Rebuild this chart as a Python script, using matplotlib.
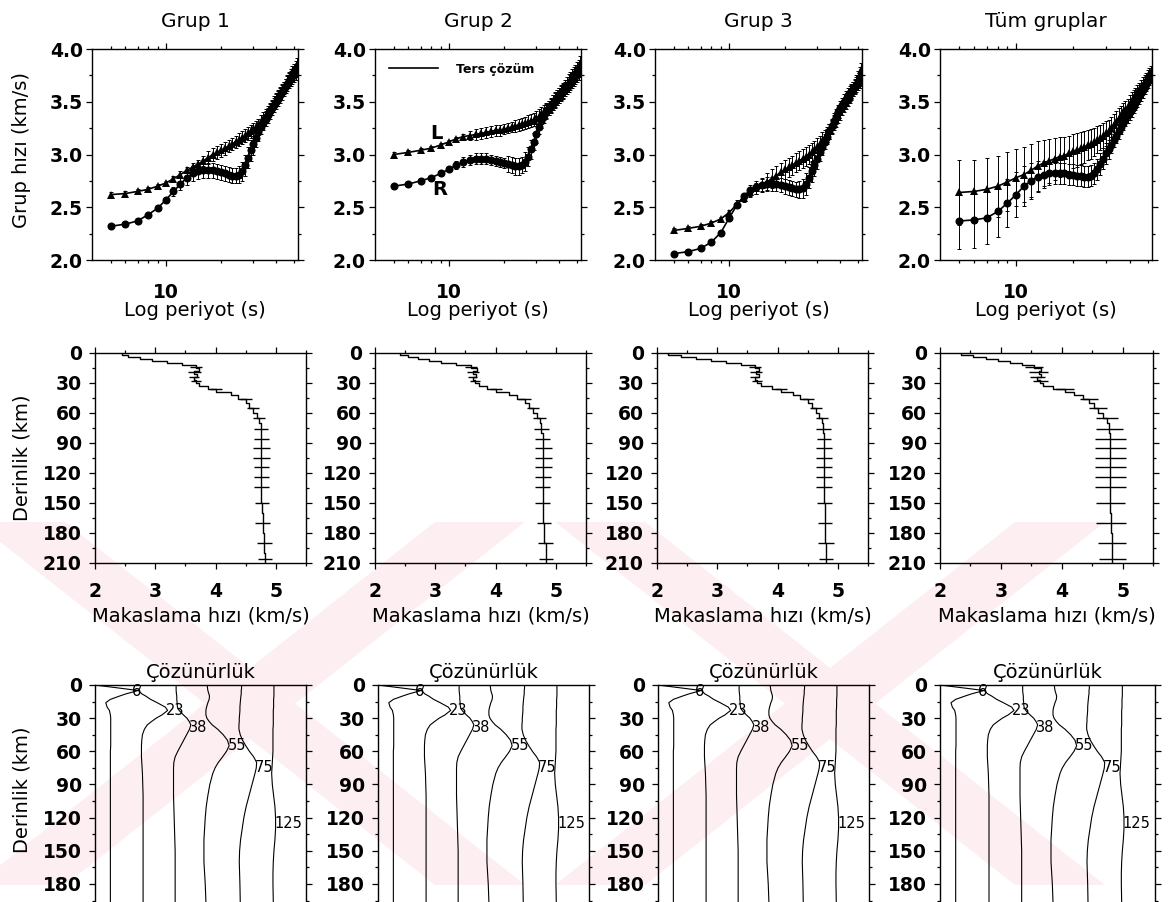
import numpy as np
import matplotlib.pyplot as plt
from matplotlib.ticker import MultipleLocator, FixedLocator, NullFormatter, NullLocator

plt.rcParams["font.family"] = ["DejaVu Sans"]
plt.rcParams["axes.linewidth"] = 1.0

W, H = 1170, 902

# ============================================================
# VERI
# ============================================================

gruplar = ["Grup 1", "Grup 2", "Grup 3", "Tüm gruplar"]

periyot = [5, 6, 7, 8, 9, 10, 11, 12, 13, 14, 15, 16, 17, 18, 19, 20,
           21, 22, 23, 24, 25, 26, 27, 28, 29, 30, 31, 32, 33, 34, 35, 36,
           37, 38, 39, 40, 41, 42, 43, 44, 45, 46, 47, 48, 49, 50, 51, 52]

# Love (L, ucgen) ve Rayleigh (R, daire) grup hizlari, km/s
g1_L = [2.62, 2.63, 2.65, 2.67, 2.70, 2.73, 2.77, 2.81, 2.85, 2.88, 2.91, 2.94,
        2.97, 3.00, 3.02, 3.04, 3.06, 3.08, 3.10, 3.12, 3.14, 3.16, 3.18, 3.20,
        3.22, 3.24, 3.26, 3.28, 3.31, 3.34, 3.37, 3.40, 3.43, 3.46, 3.49, 3.52,
        3.55, 3.58, 3.61, 3.63, 3.66, 3.69, 3.72, 3.75, 3.78, 3.80, 3.83, 3.85]
g1_R = [2.32, 2.34, 2.37, 2.43, 2.49, 2.57, 2.65, 2.72, 2.78, 2.82, 2.84, 2.85,
        2.85, 2.85, 2.84, 2.83, 2.82, 2.81, 2.80, 2.80, 2.81, 2.84, 2.90, 2.97,
        3.04, 3.10, 3.16, 3.21, 3.26, 3.30, 3.34, 3.37, 3.41, 3.44, 3.47, 3.50,
        3.53, 3.56, 3.59, 3.62, 3.65, 3.67, 3.70, 3.72, 3.74, 3.76, 3.78, 3.80]
g1_Lh = [0.02, 0.02, 0.02, 0.02, 0.02, 0.02, 0.03, 0.03, 0.03, 0.04, 0.04, 0.05,
         0.06, 0.06, 0.06, 0.06, 0.06, 0.06, 0.06, 0.06, 0.06, 0.06, 0.06, 0.06,
         0.06, 0.06, 0.06, 0.06, 0.06, 0.06, 0.06, 0.06, 0.06, 0.06, 0.06, 0.06,
         0.06, 0.06, 0.06, 0.06, 0.06, 0.06, 0.06, 0.06, 0.06, 0.06, 0.06, 0.06]
g1_Rh = [0.02, 0.02, 0.02, 0.02, 0.02, 0.03, 0.04, 0.06, 0.07, 0.07, 0.07, 0.07,
         0.07, 0.07, 0.07, 0.07, 0.07, 0.07, 0.07, 0.07, 0.08, 0.09, 0.10, 0.10,
         0.10, 0.10, 0.09, 0.08, 0.07, 0.07, 0.07, 0.07, 0.07, 0.07, 0.07, 0.07,
         0.07, 0.07, 0.07, 0.07, 0.07, 0.07, 0.07, 0.07, 0.07, 0.07, 0.07, 0.07]

g2_L = [3.00, 3.02, 3.04, 3.06, 3.09, 3.12, 3.15, 3.17, 3.18, 3.19, 3.20, 3.21,
        3.22, 3.23, 3.23, 3.24, 3.25, 3.26, 3.27, 3.28, 3.29, 3.30, 3.31, 3.32,
        3.33, 3.35, 3.36, 3.38, 3.40, 3.42, 3.44, 3.46, 3.49, 3.51, 3.54, 3.56,
        3.59, 3.61, 3.64, 3.66, 3.69, 3.71, 3.74, 3.76, 3.78, 3.81, 3.83, 3.86]
g2_R = [2.70, 2.72, 2.75, 2.78, 2.82, 2.86, 2.90, 2.93, 2.95, 2.96, 2.96, 2.96,
        2.95, 2.94, 2.93, 2.92, 2.91, 2.90, 2.89, 2.89, 2.90, 2.93, 2.98, 3.05,
        3.12, 3.19, 3.26, 3.32, 3.37, 3.41, 3.44, 3.47, 3.49, 3.52, 3.54, 3.56,
        3.58, 3.60, 3.62, 3.64, 3.66, 3.68, 3.70, 3.72, 3.74, 3.76, 3.78, 3.80]
g2_Lh = [0.02, 0.02, 0.02, 0.02, 0.02, 0.02, 0.02, 0.02, 0.04, 0.05, 0.05, 0.05,
         0.05, 0.05, 0.05, 0.05, 0.05, 0.05, 0.06, 0.06, 0.06, 0.06, 0.06, 0.06,
         0.06, 0.06, 0.07, 0.07, 0.07, 0.07, 0.07, 0.07, 0.07, 0.07, 0.07, 0.07,
         0.07, 0.07, 0.07, 0.07, 0.07, 0.07, 0.07, 0.07, 0.07, 0.07, 0.07, 0.07]
g2_Rh = [0.02, 0.02, 0.02, 0.02, 0.02, 0.02, 0.04, 0.05, 0.05, 0.05, 0.05, 0.05,
         0.05, 0.05, 0.05, 0.05, 0.08, 0.08, 0.08, 0.08, 0.08, 0.09, 0.09, 0.09,
         0.08, 0.08, 0.07, 0.07, 0.07, 0.07, 0.07, 0.07, 0.07, 0.07, 0.07, 0.07,
         0.07, 0.07, 0.07, 0.07, 0.07, 0.07, 0.07, 0.07, 0.07, 0.07, 0.07, 0.07]

g3_L = [2.28, 2.30, 2.32, 2.35, 2.39, 2.45, 2.53, 2.59, 2.64, 2.68, 2.71, 2.74,
        2.77, 2.80, 2.83, 2.86, 2.88, 2.90, 2.92, 2.94, 2.96, 2.98, 3.00, 3.02,
        3.04, 3.07, 3.10, 3.13, 3.16, 3.19, 3.22, 3.26, 3.30, 3.33, 3.37, 3.40,
        3.44, 3.47, 3.50, 3.53, 3.56, 3.59, 3.62, 3.65, 3.68, 3.72, 3.76, 3.80]
g3_R = [2.06, 2.08, 2.11, 2.17, 2.26, 2.40, 2.52, 2.61, 2.66, 2.69, 2.71, 2.72,
        2.72, 2.72, 2.71, 2.70, 2.69, 2.68, 2.67, 2.67, 2.68, 2.72, 2.78, 2.84,
        2.90, 2.96, 3.02, 3.07, 3.12, 3.17, 3.22, 3.27, 3.32, 3.36, 3.40, 3.44,
        3.47, 3.50, 3.53, 3.56, 3.58, 3.60, 3.62, 3.64, 3.66, 3.68, 3.70, 3.72]
g3_Lh = [0.02, 0.02, 0.02, 0.02, 0.02, 0.02, 0.04, 0.04, 0.04, 0.05, 0.06, 0.08,
         0.09, 0.09, 0.09, 0.09, 0.09, 0.09, 0.09, 0.09, 0.09, 0.09, 0.09, 0.09,
         0.09, 0.09, 0.08, 0.08, 0.07, 0.07, 0.07, 0.07, 0.07, 0.07, 0.07, 0.07,
         0.07, 0.07, 0.07, 0.07, 0.07, 0.07, 0.07, 0.07, 0.07, 0.07, 0.07, 0.07]
g3_Rh = [0.02, 0.02, 0.02, 0.02, 0.02, 0.02, 0.02, 0.02, 0.05, 0.06, 0.07, 0.07,
         0.07, 0.07, 0.07, 0.07, 0.07, 0.07, 0.07, 0.08, 0.09, 0.10, 0.10, 0.10,
         0.10, 0.10, 0.08, 0.07, 0.07, 0.07, 0.07, 0.07, 0.07, 0.07, 0.07, 0.07,
         0.07, 0.07, 0.07, 0.07, 0.07, 0.07, 0.07, 0.07, 0.07, 0.07, 0.07, 0.07]

g4_L = [2.64, 2.65, 2.67, 2.70, 2.74, 2.78, 2.81, 2.85, 2.89, 2.92, 2.94, 2.96,
        2.98, 2.99, 3.01, 3.03, 3.04, 3.06, 3.07, 3.09, 3.10, 3.12, 3.14, 3.16,
        3.18, 3.20, 3.22, 3.25, 3.28, 3.31, 3.34, 3.37, 3.40, 3.42, 3.45, 3.48,
        3.51, 3.53, 3.56, 3.59, 3.61, 3.64, 3.66, 3.69, 3.71, 3.74, 3.76, 3.78]
g4_R = [2.37, 2.38, 2.40, 2.46, 2.54, 2.62, 2.70, 2.75, 2.79, 2.81, 2.82, 2.82,
        2.82, 2.82, 2.81, 2.81, 2.80, 2.80, 2.79, 2.79, 2.80, 2.82, 2.86, 2.91,
        2.96, 3.01, 3.05, 3.09, 3.14, 3.18, 3.22, 3.26, 3.30, 3.34, 3.37, 3.40,
        3.43, 3.46, 3.49, 3.52, 3.55, 3.58, 3.61, 3.64, 3.67, 3.70, 3.73, 3.75]
g4_Lh = [0.31, 0.30, 0.30, 0.29, 0.28, 0.27, 0.26, 0.25, 0.24, 0.22, 0.21, 0.20,
         0.19, 0.18, 0.17, 0.16, 0.16, 0.15, 0.15, 0.14, 0.14, 0.13, 0.13, 0.12,
         0.12, 0.12, 0.11, 0.11, 0.10, 0.10, 0.10, 0.09, 0.09, 0.09, 0.08, 0.08,
         0.08, 0.08, 0.07, 0.07, 0.07, 0.07, 0.07, 0.06, 0.06, 0.06, 0.06, 0.06]
g4_Rh = [0.27, 0.27, 0.25, 0.24, 0.23, 0.21, 0.19, 0.17, 0.15, 0.13, 0.11, 0.10,
         0.10, 0.10, 0.10, 0.10, 0.10, 0.10, 0.10, 0.10, 0.10, 0.10, 0.10, 0.10,
         0.10, 0.10, 0.09, 0.08, 0.07, 0.07, 0.07, 0.07, 0.07, 0.07, 0.07, 0.07,
         0.07, 0.07, 0.07, 0.07, 0.07, 0.07, 0.07, 0.07, 0.07, 0.07, 0.07, 0.07]

# Makaslama hizi modelleri: katman ust derinligi (km) ve hiz (km/s)
katman_ust = [0, 2, 4, 6, 8, 10, 12, 15, 18, 21, 24, 27, 30, 33, 36, 39, 42, 46,
              50, 55, 60, 65, 70, 80, 90, 100, 110, 120, 130, 140, 150, 160,
              170, 180, 190, 200, 210]
g1_vs = [2.45, 2.55, 2.75, 2.95, 3.20, 3.45, 3.68, 3.72, 3.65, 3.70, 3.64, 3.68,
         3.72, 3.88, 4.00, 4.25, 4.38, 4.50, 4.55, 4.62, 4.68, 4.72, 4.75, 4.76,
         4.76, 4.76, 4.76, 4.76, 4.76, 4.76, 4.77, 4.78, 4.78, 4.80, 4.81, 4.82, 4.82]
g2_vs = [2.42, 2.55, 2.72, 2.90, 3.10, 3.35, 3.60, 3.70, 3.62, 3.68, 3.62, 3.66,
         3.72, 3.85, 4.00, 4.22, 4.35, 4.48, 4.55, 4.62, 4.68, 4.73, 4.76, 4.78,
         4.79, 4.79, 4.79, 4.79, 4.78, 4.78, 4.78, 4.79, 4.80, 4.81, 4.83, 4.84, 4.84]
g3_vs = [2.18, 2.40, 2.65, 2.90, 3.15, 3.40, 3.62, 3.70, 3.64, 3.70, 3.62, 3.66,
         3.72, 3.90, 4.05, 4.25, 4.38, 4.50, 4.57, 4.63, 4.68, 4.73, 4.76, 4.77,
         4.77, 4.77, 4.77, 4.77, 4.77, 4.77, 4.78, 4.78, 4.79, 4.79, 4.80, 4.80, 4.80]
g4_vs = [2.35, 2.55, 2.75, 2.95, 3.15, 3.35, 3.55, 3.66, 3.62, 3.66, 3.60, 3.65,
         3.70, 3.85, 4.05, 4.20, 4.35, 4.45, 4.53, 4.60, 4.68, 4.74, 4.78, 4.80,
         4.80, 4.80, 4.80, 4.80, 4.80, 4.80, 4.80, 4.81, 4.81, 4.82, 4.82, 4.83, 4.83]

# hata cubuklari (km/s), derinlikte
hata_derinlik = [14, 19, 24, 28, 36, 46, 55, 65, 76, 86, 95, 105, 114, 124,
                 134, 150, 170, 190, 206]
g1_vh = [0.10, 0.10, 0.08, 0.08, 0.10, 0.10, 0.10, 0.10, 0.12, 0.12, 0.14,
         0.14, 0.13, 0.13, 0.13, 0.12, 0.12, 0.13, 0.12]
g2_vh = [0.10, 0.10, 0.08, 0.08, 0.10, 0.10, 0.10, 0.11, 0.12, 0.13, 0.14,
         0.14, 0.14, 0.13, 0.13, 0.12, 0.12, 0.13, 0.12]
g3_vh = [0.10, 0.10, 0.08, 0.08, 0.10, 0.10, 0.10, 0.10, 0.12, 0.12, 0.14,
         0.14, 0.13, 0.13, 0.13, 0.12, 0.12, 0.13, 0.12]
g4_vh = [0.15, 0.15, 0.12, 0.12, 0.15, 0.15, 0.15, 0.18, 0.22, 0.25, 0.26,
         0.26, 0.25, 0.25, 0.25, 0.24, 0.24, 0.23, 0.22]

# Cozunurluk cekirdekleri (hedef derinlik etiketi, derinlik boyunca sapma)
cekirdek_derinlik = [0, 3, 5, 8, 10, 13, 16, 20, 23, 27, 30, 33, 36, 40, 45,
                     50, 55, 60, 65, 70, 75, 80, 90, 100, 110, 120, 130, 140,
                     150, 160, 170, 180, 196]
cekirdek_etiket = ["6", "23", "38", "55", "75", "125"]
k6 = [-0.46, 0.35, 0.87, 0.50, 0.30, 0.02, -0.12, -0.08, -0.01, 0.02, 0.03,
      0.03, 0.03, 0.03, 0.03, 0.03, 0.03, 0.02, 0.02, 0.02, 0.02, 0.02, 0.02,
      0.02, 0.02, 0.02, 0.02, 0.02, 0.02, 0.02, 0.02, 0.02, 0.02]
k23 = [-0.05, -0.08, -0.12, -0.02, 0.10, 0.25, 0.45, 0.70, 0.77, 0.60, 0.42,
       0.28, 0.15, 0.06, 0.00, -0.02, -0.03, -0.03, -0.03, -0.02, -0.01, 0.00,
       0.01, 0.02, 0.02, 0.02, 0.02, 0.02, 0.02, 0.02, 0.02, 0.02, 0.02]
k38 = [0.03, 0.03, 0.03, 0.04, 0.05, 0.05, 0.06, 0.07, 0.12, 0.25, 0.36, 0.43,
       0.48, 0.44, 0.35, 0.26, 0.17, 0.08, 0.00, -0.04, -0.05, -0.05, -0.05,
       -0.05, -0.04, -0.03, -0.02, -0.01, 0.00, 0.00, 0.00, 0.00, 0.00]
k55 = [-0.02, -0.01, 0.00, 0.03, 0.05, 0.04, 0.00, -0.04, -0.06, -0.06, -0.03,
       0.04, 0.13, 0.30, 0.47, 0.60, 0.65, 0.57, 0.45, 0.32, 0.22, 0.15, 0.06,
       0.00, -0.05, -0.08, -0.10, -0.12, -0.12, -0.12, -0.10, -0.08, -0.06]
k75 = [0.03, 0.03, 0.02, 0.02, 0.01, 0.00, -0.01, -0.02, -0.02, -0.03, -0.04,
       -0.04, -0.05, -0.05, -0.01, 0.06, 0.16, 0.27, 0.40, 0.49, 0.48, 0.44,
       0.35, 0.26, 0.17, 0.10, 0.05, 0.00, -0.03, -0.04, -0.03, -0.02, -0.01]
k125 = [0.02, 0.02, 0.02, 0.02, 0.02, 0.01, 0.01, 0.01, 0.00, 0.00, 0.00,
        0.00, 0.00, -0.01, -0.01, -0.01, -0.01, -0.01, -0.02, -0.03, -0.04,
        -0.05, -0.03, 0.01, 0.05, 0.07, 0.07, 0.05, 0.02, 0.00, -0.01, -0.01, 0.00]
cekirdekler = [k6, k23, k38, k55, k75, k125]

dispersiyon = [(g1_L, g1_Lh, g1_R, g1_Rh), (g2_L, g2_Lh, g2_R, g2_Rh),
               (g3_L, g3_Lh, g3_R, g3_Rh), (g4_L, g4_Lh, g4_R, g4_Rh)]
modeller = [(g1_vs, g1_vh), (g2_vs, g2_vh), (g3_vs, g3_vh), (g4_vs, g4_vh)]


# ============================================================
# YERLESIM (piksel kutulari: sol, ust, sag, alt)
# ============================================================

def kutu(l, t, r, b):
    return [l / W, 1 - b / H, (r - l) / W, (b - t) / H]

ust_kutu = [(92, 49, 298, 260), (375, 49, 581, 260),
            (655, 49, 862, 260), (940, 49, 1152, 260)]
orta_kutu = [(95, 353, 306, 563), (375, 353, 586, 563),
             (657, 353, 868, 563), (940, 353, 1153, 563)]
alt_kutu = [(95, 685, 306, 902), (378, 685, 589, 902),
            (658, 685, 869, 902), (940, 685, 1155, 902)]

fig = plt.figure(figsize=(W / 100, H / 100), dpi=100)

# filigran (soluk pembe capraz bantlar)
wm = fig.add_axes([0, 0, 1, 1], zorder=-10)
wm.set_xlim(0, W)
wm.set_ylim(H, 0)
wm.axis("off")
for cx in [250, 830]:
    for yon in [1, -1]:
        xs = [cx - yon * 230 - 45, cx - yon * 230 + 45, cx + yon * 230 + 45, cx + yon * 230 - 45]
        ys = [522, 522, 885, 885]
        wm.fill(xs, ys, color="#fdeef1", lw=0)

TICK = dict(which="both", direction="out", top=True, right=True,
            width=0.9, colors="black")


def eksen_ayar(ax, ypad=2, xpad=8):
    ax.tick_params(**TICK)
    ax.tick_params(which="major", length=4.5)
    ax.tick_params(which="minor", length=2.5)
    ax.tick_params(axis="y", pad=ypad)
    ax.tick_params(axis="x", pad=xpad)
    for lab in ax.get_xticklabels() + ax.get_yticklabels():
        lab.set_fontweight("bold")
        lab.set_fontsize(13.5)
    ax.patch.set_alpha(0)


for i in range(4):
    L, Lh, R, Rh = dispersiyon[i]

    # ---------------- 1) grup hizi dispersiyonu ----------------
    ax = fig.add_axes(kutu(*ust_kutu[i]))
    ax.errorbar(periyot, R, yerr=Rh, fmt="none", ecolor="k", elinewidth=0.7,
                capsize=1.6, capthick=0.7)
    ax.errorbar(periyot, L, yerr=Lh, fmt="none", ecolor="k", elinewidth=0.7,
                capsize=1.6, capthick=0.7)
    ax.plot(periyot, R, "-", color="k", lw=1.2, label="Ters çözüm")
    ax.plot(periyot, L, "-", color="k", lw=1.2)
    ax.plot(periyot, R, "o", color="k", ms=5.8, mew=0)
    ax.plot(periyot, L, "^", color="k", ms=5.8, mew=0)
    ax.set_xscale("log")
    ax.set_xlim(3.95, 52.6)
    ax.set_ylim(2.0, 4.0)
    ax.xaxis.set_major_locator(FixedLocator([10]))
    ax.xaxis.set_minor_locator(FixedLocator([5, 6, 7, 8, 9, 20, 30, 40, 50]))
    ax.xaxis.set_minor_formatter(NullFormatter())
    ax.set_xticklabels(["10"])
    ax.yaxis.set_minor_locator(MultipleLocator(0.25))
    ax.set_yticks([2.0, 2.5, 3.0, 3.5, 4.0], ["2.0", "2.5", "3.0", "3.5", "4.0"])
    eksen_ayar(ax, ypad=2, xpad=12)
    ax.set_title(gruplar[i], fontsize=14.5, pad=16)
    ax.text(0.5, -0.24, "Log periyot (s)", transform=ax.transAxes,
            ha="center", va="center", fontsize=14)
    if i == 0:
        ax.text(-0.34, 0.52, "Grup hızı (km/s)", transform=ax.transAxes,
                rotation=90, ha="center", va="center", fontsize=14)
    if i == 1:
        ax.legend(loc="upper left", frameon=False, handlelength=3.9,
                  handletextpad=1.5, borderaxespad=0.7,
                  prop={"size": 9, "weight": "bold"})
        ax.text(0.30, 0.60, "L", transform=ax.transAxes, ha="center",
                va="center", fontsize=14, fontweight="bold")
        ax.text(0.315, 0.335, "R", transform=ax.transAxes, ha="center",
                va="center", fontsize=14, fontweight="bold")

    # ---------------- 2) makaslama hizi modeli ----------------
    vs, vh = modeller[i]
    ax = fig.add_axes(kutu(*orta_kutu[i]))
    ax.plot(vs, katman_ust, color="k", lw=1.0, drawstyle="steps-pre")
    idx = np.searchsorted(katman_ust, hata_derinlik, side="right") - 1
    ax.errorbar(np.array(vs)[idx], hata_derinlik, xerr=vh, fmt="none",
                ecolor="k", elinewidth=1.0, capsize=0)
    ax.set_xlim(2.0, 5.5)
    ax.set_ylim(210, 0)
    ax.xaxis.set_major_locator(MultipleLocator(1))
    ax.xaxis.set_minor_locator(MultipleLocator(0.5))
    ax.yaxis.set_major_locator(MultipleLocator(30))
    ax.yaxis.set_minor_locator(MultipleLocator(15))
    eksen_ayar(ax, ypad=5, xpad=9)
    ax.text(0.5, -0.25, "Makaslama hızı (km/s)", transform=ax.transAxes,
            ha="center", va="center", fontsize=14)
    if i == 0:
        ax.text(-0.346, 0.50, "Derinlik (km)", transform=ax.transAxes,
                rotation=90, ha="center", va="center", fontsize=14)

    # ---------------- 3) cozunurluk cekirdekleri ----------------
    ax = fig.add_axes(kutu(*alt_kutu[i]))
    for j, k in enumerate(cekirdekler):
        taban = 0.45 + j
        x = taban + np.array(k)
        ax.plot(x, cekirdek_derinlik, color="k", lw=0.8)
        tepe = int(np.argmax(k))
        ax.text(x[tepe] - 0.05, float(cekirdek_etiket[j]), cekirdek_etiket[j],
                fontsize=10.5, ha="left" if j else "center", va="center")
    ax.set_xlim(0, 6.45)
    ax.set_ylim(196.3, 0)
    ax.xaxis.set_major_locator(NullLocator())
    ax.xaxis.set_minor_locator(NullLocator())
    ax.yaxis.set_major_locator(MultipleLocator(30))
    ax.yaxis.set_minor_locator(MultipleLocator(15))
    ax.spines["bottom"].set_visible(False)
    eksen_ayar(ax, ypad=5)
    ax.set_title("Çözünürlük", fontsize=14, pad=5)
    if i == 0:
        ax.text(-0.346, 0.516, "Derinlik (km)", transform=ax.transAxes,
                rotation=90, ha="center", va="center", fontsize=14)

fig.savefig("out.png", dpi=100)
